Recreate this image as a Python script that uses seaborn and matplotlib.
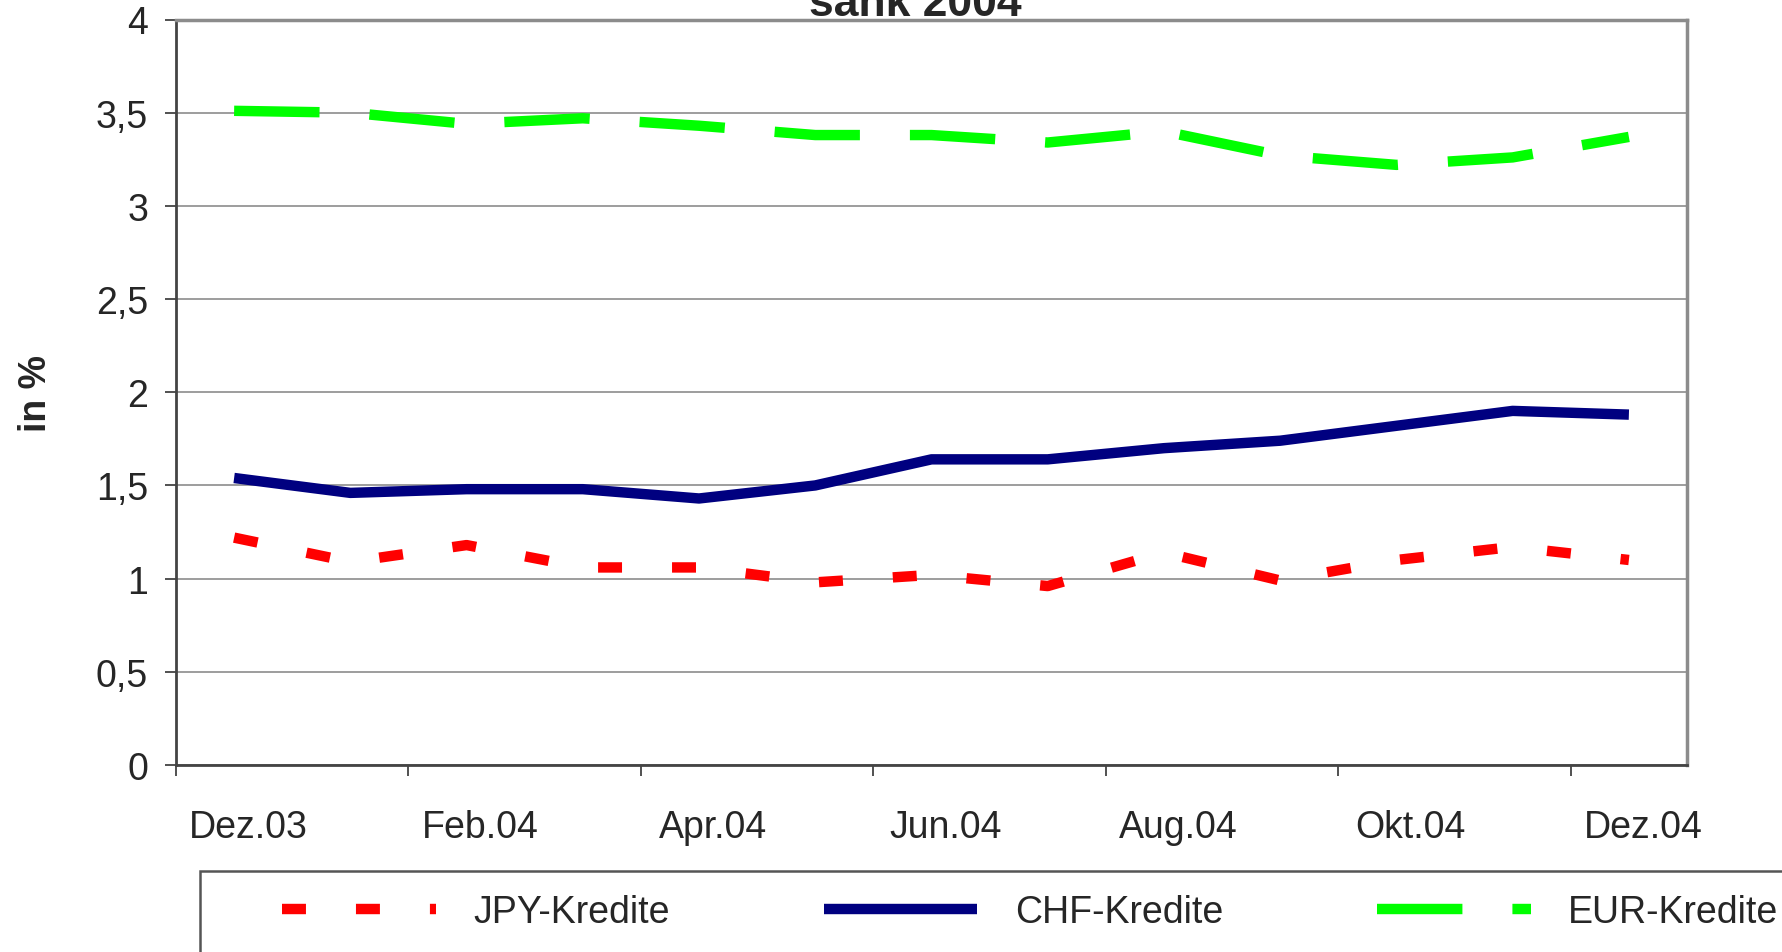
import numpy as np
import pandas as pd
import seaborn as sns
import matplotlib.pyplot as plt
from matplotlib.patches import Rectangle

months = ["Dez.03", "Jan.04", "Feb.04", "Mär.04", "Apr.04", "Mai.04", "Jun.04",
          "Jul.04", "Aug.04", "Sep.04", "Okt.04", "Nov.04", "Dez.04"]
jpy = [1.22, 1.09, 1.18, 1.06, 1.06, 0.98, 1.02, 0.96, 1.14, 0.99, 1.10, 1.17, 1.10]
chf = [1.54, 1.46, 1.48, 1.48, 1.43, 1.50, 1.64, 1.64, 1.70, 1.74, 1.82, 1.90, 1.88]
eur = [3.51, 3.50, 3.44, 3.47, 3.43, 3.38, 3.38, 3.34, 3.40, 3.27, 3.22, 3.26, 3.37]
series_names = ["JPY-Kredite", "CHF-Kredite", "EUR-Kredite"]
y_ticks = [0, 0.5, 1, 1.5, 2, 2.5, 3, 3.5, 4]
y_labels = ["0", "0,5", "1", "1,5", "2", "2,5", "3", "3,5", "4"]

sns.set_style("white")
plt.rcParams["font.family"] = ["Liberation Sans", "DejaVu Sans"]
fs = 27

df = pd.DataFrame({
    "pos": list(range(len(months))) * 3,
    "val": jpy + chf + eur,
    "series": [s for s in series_names for _ in months],
})

fig = plt.figure(figsize=(17.82, 9.53), dpi=100)
ax = fig.add_axes([176 / 1782, 1 - 766 / 953, (1687 - 176) / 1782, (766 - 20.5) / 953])

sns.lineplot(
    data=df, x="pos", y="val", hue="series", style="series",
    hue_order=series_names, style_order=series_names,
    palette={"JPY-Kredite": "#ff0000", "CHF-Kredite": "#000080", "EUR-Kredite": "#00ff00"},
    dashes={"JPY-Kredite": (2.3, 4.8), "CHF-Kredite": "", "EUR-Kredite": (8.2, 4.8)},
    lw=7.5, ax=ax, legend=True,
)
for line in ax.lines:
    line.set_solid_capstyle("butt")
    line.set_dash_capstyle("butt")

ax.set_xlim(-0.5, 12.5)
ax.set_ylim(0, 4)
ax.set_yticks(y_ticks)
ax.set_yticklabels(y_labels, fontsize=fs)
ax.yaxis.grid(True, color="#8c8c8c", lw=1.2)
ax.tick_params(axis="y", length=8, width=1.2, color="#333333", pad=12, left=True)

# ticks sit on the category borders, labels under every second month
bounds = np.arange(-0.5, 12, 2)
ax.set_xticks(bounds)
ax.set_xticklabels([""] * len(bounds))
ax.tick_params(axis="x", which="major", length=8, width=1.2, color="#333333", bottom=True)
ax.set_xticks(np.arange(0, 13, 2) + 0.12, minor=True)
ax.set_xticklabels(months[::2], minor=True, fontsize=fs)
ax.tick_params(axis="x", which="minor", length=0, pad=32)

ax.set_xlabel("")
ax.set_ylabel("in %", fontsize=fs, fontweight="bold", labelpad=30)

for side in ["top", "right"]:
    ax.spines[side].set_color("#8c8c8c")
    ax.spines[side].set_linewidth(2.5)
for side in ["left", "bottom"]:
    ax.spines[side].set_color("#444444")
    ax.spines[side].set_linewidth(2)

handles, labels = ax.get_legend_handles_labels()
ax.get_legend().remove()
fig.legend(handles, labels, loc="center left", bbox_to_anchor=(282 / 1782, 1 - 913 / 953),
           ncol=3, frameon=False, fontsize=fs, borderpad=0, borderaxespad=0,
           handlelength=4.1, handletextpad=1.0, columnspacing=4.1)
fig.patches.append(Rectangle((200 / 1782, -0.2), 1.0, 0.2 + 1 - 872 / 953,
                             transform=fig.transFigure, fill=False,
                             edgecolor="#555555", lw=1.8))

fig.text(915 / 1782, 1 - 16 / 953, "sank 2004", ha="center", va="baseline",
         fontsize=32, fontweight="bold")

plt.savefig("out.png", dpi=100)
